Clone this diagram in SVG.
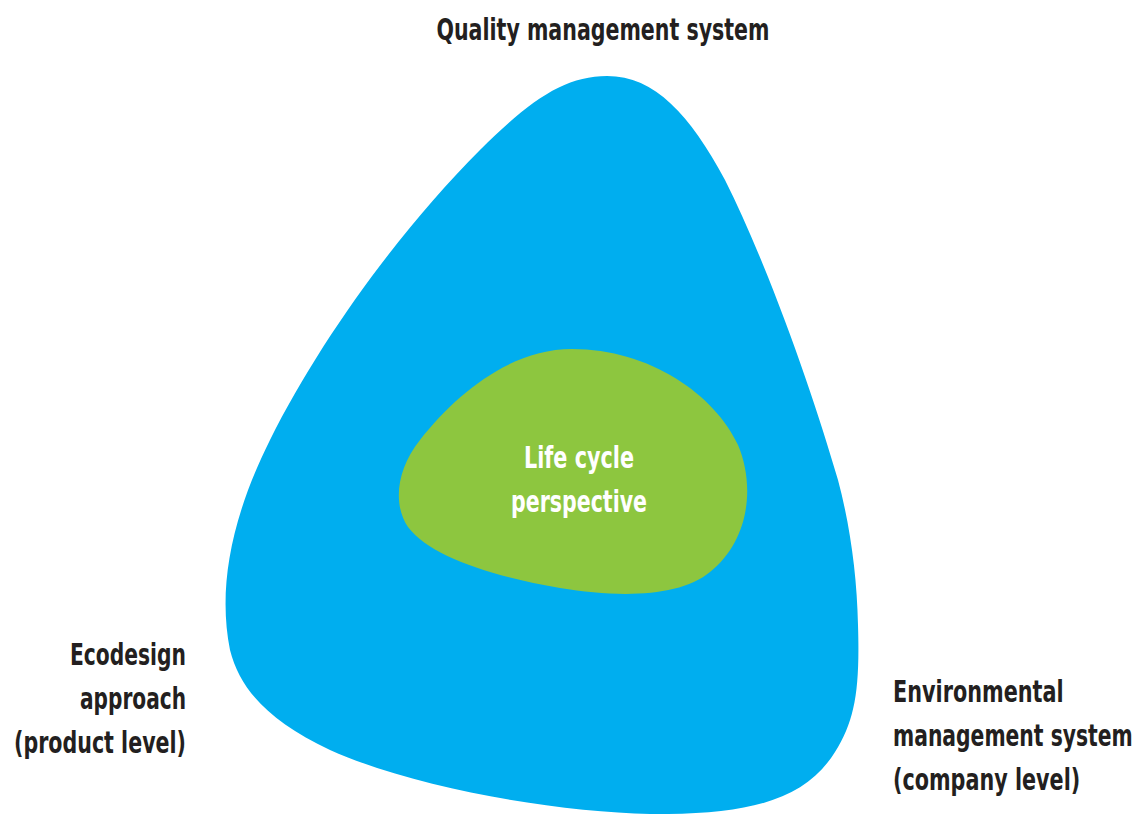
<svg xmlns="http://www.w3.org/2000/svg" width="1143" height="814" viewBox="0 0 1143 814">
<style>
.t{font-family:"DejaVu Sans","Liberation Sans",sans-serif;font-stretch:condensed;font-weight:bold;font-size:31px;fill:#231f20}
.w{fill:#ffffff}
</style>
<rect width="1143" height="814" fill="#ffffff"/>
<g id="quality-system">
<path d="M607,76 C655,76 690,115 725,180 C770,270 815,400 838,480 C850,525 857,575 858,625 C860,690 855,720 835,752 C805,800 750,815 650,814 C560,812 420,790 330,750 C270,722 240,690 230,650 C218,590 230,520 270,440 C320,340 400,230 480,150 C530,100 565,76 607,76 Z" fill="#00aeef"/>
</g>
<g id="life-cycle">
<path d="M572,349 C650,349 715,395 738,445 C755,485 750,540 710,572 C680,597 620,598 560,588 C490,576 430,556 408,527 C393,505 396,470 420,440 C455,395 510,349 572,349 Z" fill="#8dc63f"/>
<text class="t w" text-anchor="middle" x="579" y="468" textLength="110" lengthAdjust="spacingAndGlyphs">Life cycle</text>
<text class="t w" text-anchor="middle" x="579" y="512" textLength="136" lengthAdjust="spacingAndGlyphs">perspective</text>
</g>
<g id="label-quality">
<text class="t" text-anchor="middle" x="603" y="40" textLength="333" lengthAdjust="spacingAndGlyphs">Quality management system</text>
</g>
<g id="label-ecodesign">
<text class="t" text-anchor="end" x="186" y="665" textLength="116" lengthAdjust="spacingAndGlyphs">Ecodesign</text>
<text class="t" text-anchor="end" x="186" y="709" textLength="106" lengthAdjust="spacingAndGlyphs">approach</text>
<text class="t" text-anchor="end" x="186" y="753" textLength="172" lengthAdjust="spacingAndGlyphs">(product level)</text>
</g>
<g id="label-environmental" transform="translate(893,0) scale(0.72,1)">
<text class="t" x="0" y="702" textLength="237" lengthAdjust="spacingAndGlyphs">Environmental</text>
<text class="t" x="0" y="746" textLength="333" lengthAdjust="spacingAndGlyphs">management system</text>
<text class="t" x="0" y="790" textLength="260" lengthAdjust="spacingAndGlyphs">(company level)</text>
</g>
<g id="connectors"/>
</svg>
